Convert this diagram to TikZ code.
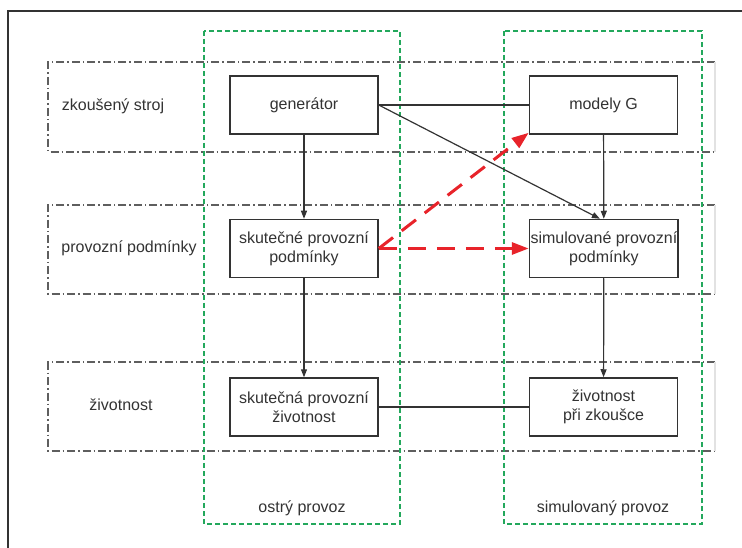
\documentclass[tikz,border=0pt]{standalone}
\usepackage{fontspec}
\setmainfont{Liberation Sans}
\usetikzlibrary{arrows.meta,positioning}
\definecolor{LaneGrey}{HTML}{5E5E5E}
\definecolor{LaneGreyLight}{HTML}{E2E2E2}
\definecolor{ModeGreen}{HTML}{23A85C}
\definecolor{LinkRed}{HTML}{E8232A}
\definecolor{BoxGrey}{HTML}{333333}

\begin{document}
\begin{tikzpicture}[
    x=1pt,y=-1pt,
    every node/.style={
      font=\fontsize{16}{19}\selectfont,
      text=BoxGrey,
      align=center
    },
    block/.style={
      draw=BoxGrey,
      line width=1.5pt,
      fill=white,
      minimum width=148pt,
      minimum height=58pt,
      inner xsep=1pt
    },
    lane/.style={draw=LaneGrey,line width=1.4pt,dash pattern=on 8pt off 3pt on 1.5pt off 3pt},
    lanefade/.style={draw=LaneGreyLight,line width=1.4pt},
    mode/.style={draw=ModeGreen,line width=1.3pt,dash pattern=on 5pt off 3pt},
    frame/.style={draw=BoxGrey,line width=1.5pt},
    flow/.style={draw=BoxGrey,line width=1.2pt,-{Triangle[length=8pt,width=6pt]}},
    link/.style={draw=BoxGrey,line width=1.2pt},
    model/.style={draw=LinkRed,line width=3pt,dash pattern=on 18pt off 11pt,
      -{Triangle[length=17pt,width=12pt]}}
  ]
    \useasboundingbox (0,0) rectangle (742,548);
    \draw[frame] (8,548) -- (8,11) -- (742,11);

    % rows
    \foreach \laneTop/\laneBot in {62/152,205/294,362/451} {
      \draw[lane] (715,\laneTop) -- (48,\laneTop) -- (48,\laneBot) -- (715,\laneBot);
      \draw[lanefade] (715,\laneTop) -- (715,\laneBot);
    }
    \node (labMachine) at (113,106) {zkoušený stroj};
    \node (labCond) at (129,248) {provozní podmínky};
    \node (labLife) at (121,405) {životnost};

    % columns
    \draw[mode] (204,31) rectangle (400,524);
    \draw[mode] (504,31) rectangle (702,524);
    \node (labLive) at (302,508) {ostrý provoz};
    \node (labSim) at (603,508) {simulovaný provoz};

    % blocks
    \node[block] (gen) at (304,105) {generátor};
    \node[block,right=150pt of gen] (models) {modely G};
    \node[block,below=84pt of gen] (realCond) {skutečné provozní\\podmínky};
    \node[block,right=150pt of realCond] (simCond) {simulované provozní\\podmínky};
    \node[block,below=99pt of realCond] (realLife) {skutečná provozní\\životnost};
    \node[block,right=150pt of realLife] (simLife) {životnost\\při zkoušce};

    \draw[flow] (gen) -- (realCond);
    \draw[flow] (realCond) -- (realLife);
    \draw[flow] (models) -- (simCond);
    \draw[flow] (simCond) -- (simLife);
    \draw[link] (gen) -- (models);
    \draw[link] (realLife) -- (simLife);
    \draw[flow] (gen.east) -- ([xshift=-4pt]simCond.north);
    \draw[model] (realCond.east) -- ([yshift=2pt]models.south west);
    \draw[model] (realCond.east) -- (simCond.west);
  \end{tikzpicture}
\end{document}
